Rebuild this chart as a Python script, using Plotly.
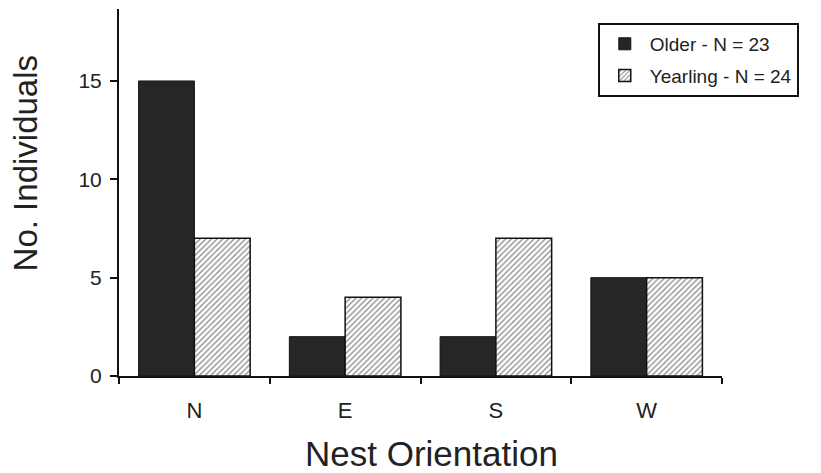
import plotly.graph_objects as go

categories = ["N", "E", "S", "W"]
older = [15, 2, 2, 5]
yearling = [7, 4, 7, 5]
older_name = "Older - N = 23"
yearling_name = "Yearling - N = 24"
y_ticks = [0, 5, 10, 15]
x_title = "Nest Orientation"
y_title = "No. Individuals"

FONT = "Liberation Sans, Arial, Helvetica, sans-serif"
INK = "#222222"

fig = go.Figure()
fig.add_trace(go.Bar(
    x=categories, y=older, name=older_name, legendgroup="a",
    marker=dict(color="#262626", line=dict(color="#111111", width=1)),
))
fig.add_trace(go.Bar(
    x=categories, y=yearling, name=yearling_name, legendgroup="b",
    marker=dict(color="white", line=dict(color="#111111", width=1.5),
                pattern=dict(shape="/", fgcolor="#222222", bgcolor="white",
                             size=4, solidity=0.35)),
))

fig.add_annotation(text=x_title, xref="paper", yref="paper", x=0.519, y=-0.21,
                   xanchor="center", yanchor="middle", showarrow=False,
                   font=dict(size=35, family=FONT, color=INK))
fig.add_annotation(text=y_title, xref="paper", yref="paper", x=-0.155, y=0.578,
                   xanchor="center", yanchor="middle", showarrow=False, textangle=-90,
                   font=dict(size=33, family=FONT, color=INK))

fig.update_layout(
    width=821, height=473,
    margin=dict(l=111, r=107, t=1, b=105),
    paper_bgcolor="white", plot_bgcolor="white",
    barmode="group", bargap=0.26, bargroupgap=0,
    font=dict(family=FONT, color=INK),
    showlegend=True,
    legend=dict(
        x=0.794, y=0.962, xanchor="left", yanchor="top",
        bgcolor="white", bordercolor="#111111", borderwidth=2,
        font=dict(size=19, family=FONT, color=INK),
        tracegroupgap=4, itemwidth=40,
    ),
    xaxis=dict(
        range=[-0.5, 3.5], showline=True, linecolor="#111111", linewidth=2,
        ticks="outside", tickson="boundaries", ticklen=6, tickwidth=2,
        tickcolor="#111111", showgrid=False, zeroline=False,
        tickfont=dict(size=22, family=FONT, color=INK),
        ticklabelstandoff=14,
    ),
    yaxis=dict(
        range=[0, 18.66], showline=True, linecolor="#111111", linewidth=2,
        ticks="outside", ticklen=7, tickwidth=2, tickcolor="#111111",
        tickvals=y_ticks, showgrid=False, zeroline=False,
        tickfont=dict(size=21, family=FONT, color=INK),
        ticklabelstandoff=4,
    ),
)

fig.write_html("out.html")
